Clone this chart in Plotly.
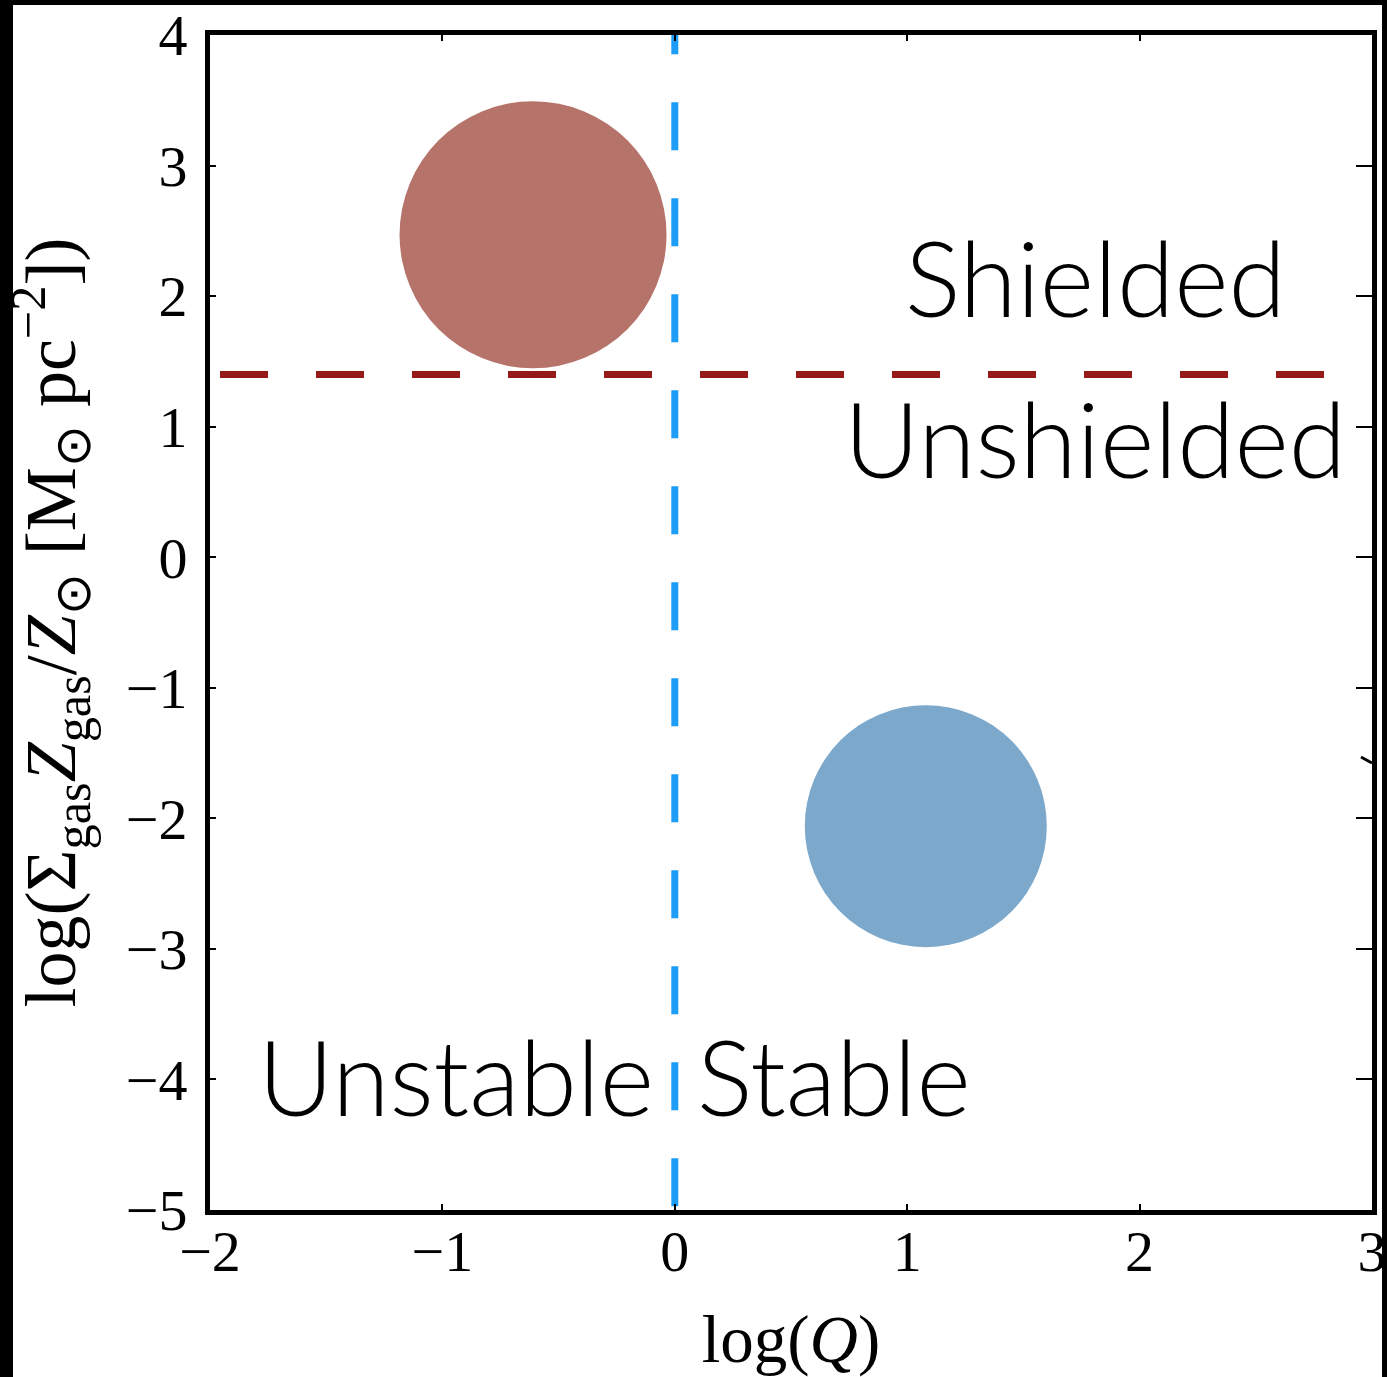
import plotly.graph_objects as go

# ---- data ----
region_x = [-0.61, 1.08]          # log(Q) centres of the two regions
region_y = [2.47, -2.06]          # log(Sigma Z / Zsun) centres
region_colors = ["#B5736A", "#7CA8CB"]
region_sizes = [267, 242]

q_crit = [0.0, 0.0]               # stability boundary log(Q)=0
q_crit_y = [4.22, -5.0]
shield_x = [-2.37, 3.0]           # shielding boundary
shield_y = [1.40, 1.40]

labels = ["Shielded", "Unshielded", "Unstable", "Stable"]
label_x = [1.81, 1.81, -0.94, 0.686]
label_y = [2.15, 0.92, -3.97, -3.97]

x_ticks = [-2, -1, 0, 1, 2, 3]
y_ticks = [-5, -4, -3, -2, -1, 0, 1, 2, 3, 4]

W, H = 1387, 1377
ml, mr, mt, mb = 210, 15, 35, 167

fig = go.Figure()
fig.add_trace(go.Scatter(x=region_x, y=region_y, mode="markers",
                         marker=dict(size=region_sizes, color=region_colors, opacity=1, line=dict(width=0)),
                         showlegend=False, hoverinfo="skip", cliponaxis=False))
fig.add_trace(go.Scatter(x=shield_x, y=shield_y, mode="lines",
                         line=dict(color="#951B1B", width=7, dash="48px,48px"),
                         showlegend=False, hoverinfo="skip"))
fig.add_trace(go.Scatter(x=q_crit, y=q_crit_y, mode="lines",
                         line=dict(color="#1C9BF7", width=7, dash="48px,48px"),
                         showlegend=False, hoverinfo="skip"))
# invisible trace to carry the right-hand tick axis
fig.add_trace(go.Scatter(x=[None], y=[None], yaxis="y2", showlegend=False, hoverinfo="skip"))

for t, x, y in zip(labels, label_x, label_y):
    fig.add_annotation(x=x, y=y, text=t, showarrow=False, xanchor="center", yanchor="middle",
                       font=dict(family="Lato", size=104, color="black", weight=300))

tickfont = dict(family="Liberation Serif", size=58, color="black")
fig.update_layout(
    width=W, height=H,
    margin=dict(l=ml, r=mr, t=mt, b=mb, autoexpand=False),
    paper_bgcolor="white", plot_bgcolor="white",
    xaxis=dict(range=[-2, 3], tickvals=x_ticks, ticks="inside", ticklen=6, tickwidth=1.5,
               tickcolor="black", showline=True, linewidth=5, linecolor="black", mirror="ticks",
               showgrid=False, zeroline=False, tickfont=tickfont, ticklabelstandoff=-14,
               automargin=False,
               title=dict(text="log(<i>Q</i>)", font=dict(family="Liberation Serif", size=67, color="black"),
                          standoff=34)),
    yaxis=dict(range=[-5, 4], tickvals=y_ticks, ticks="inside", ticklen=6, tickwidth=1.5,
               tickcolor="black", showline=True, linewidth=5, linecolor="black", mirror=True,
               showgrid=False, zeroline=False, tickfont=tickfont, ticklabelstandoff=6,
               automargin=False,
               title=dict(text="log(Σ<sub>gas</sub><i>Z</i><sub>gas</sub>/<i>Z</i><sub>⊙</sub> [M<sub>⊙</sub> pc<sup>−2</sup>])",
                          font=dict(family="Liberation Serif", size=72, color="black"), standoff=32)),
    yaxis2=dict(range=[-5, 4], tickvals=y_ticks, overlaying="y", side="right", ticks="inside",
                ticklen=16, tickwidth=1.5, tickcolor="black", showticklabels=False,
                showline=False, showgrid=False, zeroline=False, automargin=False),
)

# black slide-border strips and a small stray stroke (decoration, pixel space -> paper)
pw = W - ml - mr
ph = H - mt - mb
def px(xp):
    return (xp - ml) / pw
def py(yp):
    return 1 - (yp - mt) / ph
for x0, x1, y0, y1 in [(0, 13, 0, H), (0, W, 0, 5), (1382, W, 0, H)]:
    fig.add_shape(type="rect", xref="paper", yref="paper", x0=px(x0), x1=px(x1), y0=py(y1), y1=py(y0),
                  fillcolor="black", line=dict(width=0), layer="above")
fig.add_shape(type="line", xref="paper", yref="paper", x0=px(1361), x1=px(1372), y0=py(757), y1=py(763),
              line=dict(color="black", width=3), layer="above")

fig.write_html("out.html", config={"displayModeBar": False},
               post_script="document.body.style.margin='0';")
